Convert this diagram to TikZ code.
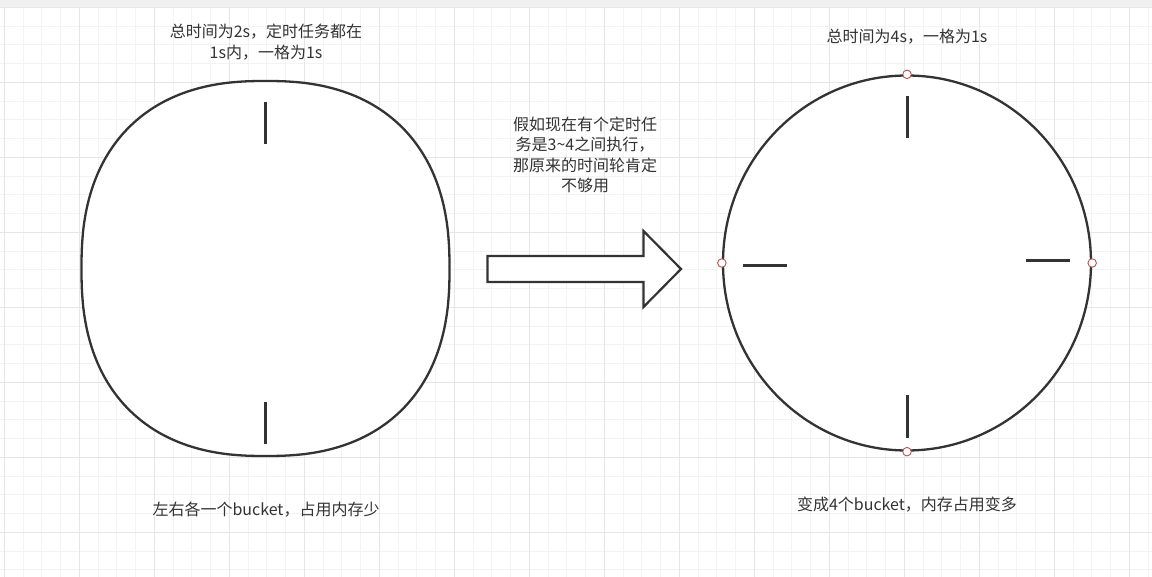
\documentclass[tikz,border=0pt]{standalone}
\usepackage{fontspec}
\setmainfont{Noto Sans CJK SC}
\usetikzlibrary{shapes.geometric}
\definecolor{ink}{HTML}{333333}
\definecolor{gridminor}{HTML}{F3F3F3}
\definecolor{gridmajor}{HTML}{E6E6E6}
\definecolor{band}{HTML}{F0F0F0}
\definecolor{portred}{HTML}{B85450}
\begin{document}
\begin{tikzpicture}[x=1pt,y=-1pt,
  minorline/.style={gridminor,line width=1pt},
  majorline/.style={gridmajor,line width=1pt},
  wheel/.style={ellipse,draw=ink,fill=white,line width=2.3pt,inner sep=0pt,minimum width=368pt,minimum height=375pt},
  rimline/.style={draw=ink,fill=white,line width=2.3pt,line join=round},
  tick/.style={draw=ink,line width=3pt},
  port/.style={circle,draw=portred,fill=white,line width=0.9pt,inner sep=0pt,minimum size=8.5pt},
  label/.style={text=ink,align=center,font=\fontsize{16}{20.5}\selectfont,inner sep=0pt},
  bigarrow/.style={draw=ink,fill=white,line width=2.2pt,line join=miter}]
\useasboundingbox (0,0) rectangle (1152,577);
\fill[white] (0,0) rectangle (1152,577);
\foreach \i in {0,...,61} \draw[minorline] ({4.3+18.75*\i},0) -- ({4.3+18.75*\i},577);
\foreach \i in {0,...,30} \draw[minorline] (0,{7.3+18.75*\i}) -- (1152,{7.3+18.75*\i});
\foreach \i in {0,...,15} \draw[majorline] ({4.3+75*\i},0) -- ({4.3+75*\i},577);
\foreach \i in {0,...,7} \draw[majorline] (0,{7.3+75*\i}) -- (1152,{7.3+75*\i});
\fill[band] (0,0) rectangle (1152,7);

% left wheel (slightly squarish rim)
\coordinate (L) at (265.5,268.5);
\draw[rimline] plot[smooth cycle,samples=144,domain=1.25:358.75,variable=\t]
  ({265.5+184*sign(cos(\t))*pow(abs(cos(\t)),0.84)},
   {268.5+187.5*sign(sin(\t))*pow(abs(sin(\t)),0.84)});
\draw[tick] (265.5,102) -- (265.5,144);
\draw[tick] (265.5,402) -- (265.5,444);

% right wheel
\node[wheel] (R) at (907,263) {};
\draw[tick] (907,96) -- (907,138);
\draw[tick] (907,395) -- (907,438);
\draw[tick] (743,265.5) -- (787,265.5);
\draw[tick] (1026,261) -- (1070,261);
\node[port] (Rn) at (R.north) {};
\node[port] (Rs) at (R.south) {};
\node[port] (Rw) at (R.west) {};
\node[port] (Re) at (R.east) {};

% big arrow
\draw[bigarrow] (487.5,256) -- (643.5,256) -- (643.5,231) -- (681,269) -- (643.5,307) -- (643.5,282) -- (487.5,282) -- cycle;

% labels
\node[label] (t1) at (266,42) {总时间为2s，定时任务都在\\1s内，一格为1s};
\node[label] (t2) at (907,36.5) {总时间为4s，一格为1s};
\node[label] (t3) at (585,155) {假如现在有个定时任\\务是3\textasciitilde4之间执行，\\那原来的时间轮肯定\\不够用};
\node[label] (t4) at (266,510) {左右各一个bucket，占用内存少};
\node[label] (t5) at (907,505) {变成4个bucket，内存占用变多};
\end{tikzpicture}
\end{document}
